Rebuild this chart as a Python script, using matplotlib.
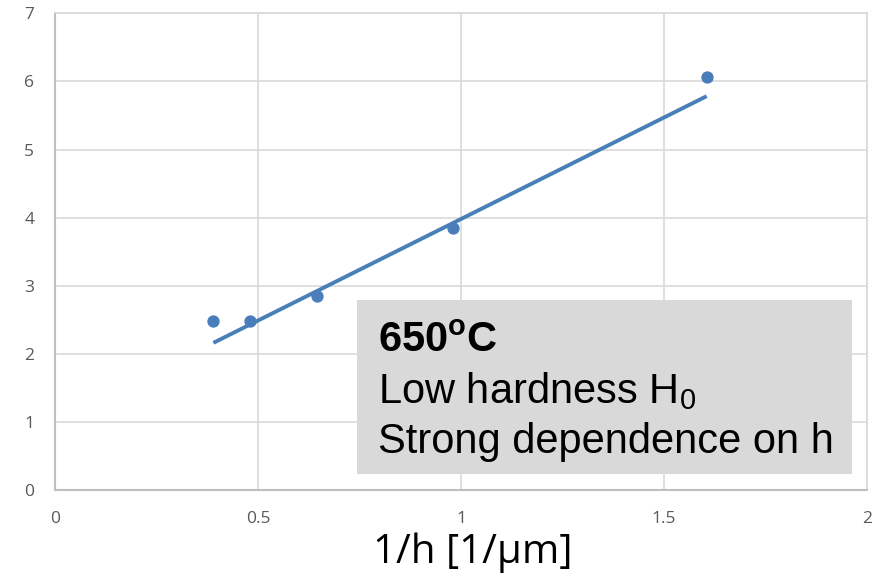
import matplotlib
matplotlib.use("Agg")
import matplotlib.pyplot as plt
from matplotlib.patches import Rectangle
import numpy as np

# measured points: inverse indentation depth vs hardness
inv_h = [0.39, 0.48, 0.645, 0.98, 1.605]
hardness = [2.49, 2.49, 2.85, 3.85, 6.06]

# linear trend line (slope, intercept)
trend_coef = [2.98, 1.00]

x_ticks = [0, 0.5, 1, 1.5, 2]
x_tick_labels = ["0", "0.5", "1", "1.5", "2"]
y_ticks = [0, 1, 2, 3, 4, 5, 6, 7]

blue = "#4a7ebb"
grid_c = "#d9d9d9"

plt.rcParams["mathtext.fontset"] = "custom"
plt.rcParams["mathtext.rm"] = "Liberation Sans"
plt.rcParams["mathtext.bf"] = "Liberation Sans:bold"

fig = plt.figure(figsize=(8.92, 5.76), dpi=100)
ax = fig.add_axes([0.0617, 0.149, 0.9103, 0.828])

ax.scatter(inv_h, hardness, s=62, color=blue, zorder=3)
xs = np.array([min(inv_h), max(inv_h)])
ax.plot(xs, np.polyval(trend_coef, xs), color=blue, lw=2.8, zorder=3,
        solid_capstyle="butt")

ax.set_xlim(0, 2)
ax.set_ylim(0, 7)
ax.set_xticks(x_ticks)
ax.set_xticklabels(x_tick_labels)
ax.set_yticks(y_ticks)
ax.grid(True, color=grid_c, lw=1.2)
ax.set_axisbelow(True)
for side in ["top", "right"]:
    ax.spines[side].set_color(grid_c)
    ax.spines[side].set_linewidth(1.2)
for side in ["left", "bottom"]:
    ax.spines[side].set_color("#bfbfbf")
    ax.spines[side].set_linewidth(1.5)
ax.tick_params(length=0, labelsize=12.5, labelcolor="#595959", pad=15)
for lab in ax.get_xticklabels() + ax.get_yticklabels():
    lab.set_fontfamily("Open Sans")

fig.text(0.53, 0.005, "1/h [1/\u03bcm]", fontsize=29, family="Open Sans",
         ha="center", va="bottom")

# annotation box
fig.patches.append(Rectangle((0.400, 0.177), 0.555, 0.302, transform=fig.transFigure,
                             facecolor="#d9d9d9", edgecolor="none", zorder=5))
fs = 30
fig.text(0.424, 0.389, r"$\mathbf{650^{o}C}$", fontsize=fs, va="baseline", zorder=6)
fig.text(0.424, 0.300, r"Low hardness H$_0$", fontsize=fs, family="Liberation Sans",
         va="baseline", zorder=6)
fig.text(0.424, 0.2135, "Strong dependence on h", fontsize=fs, family="Liberation Sans",
         va="baseline", zorder=6)

fig.savefig("out.png", dpi=100)
